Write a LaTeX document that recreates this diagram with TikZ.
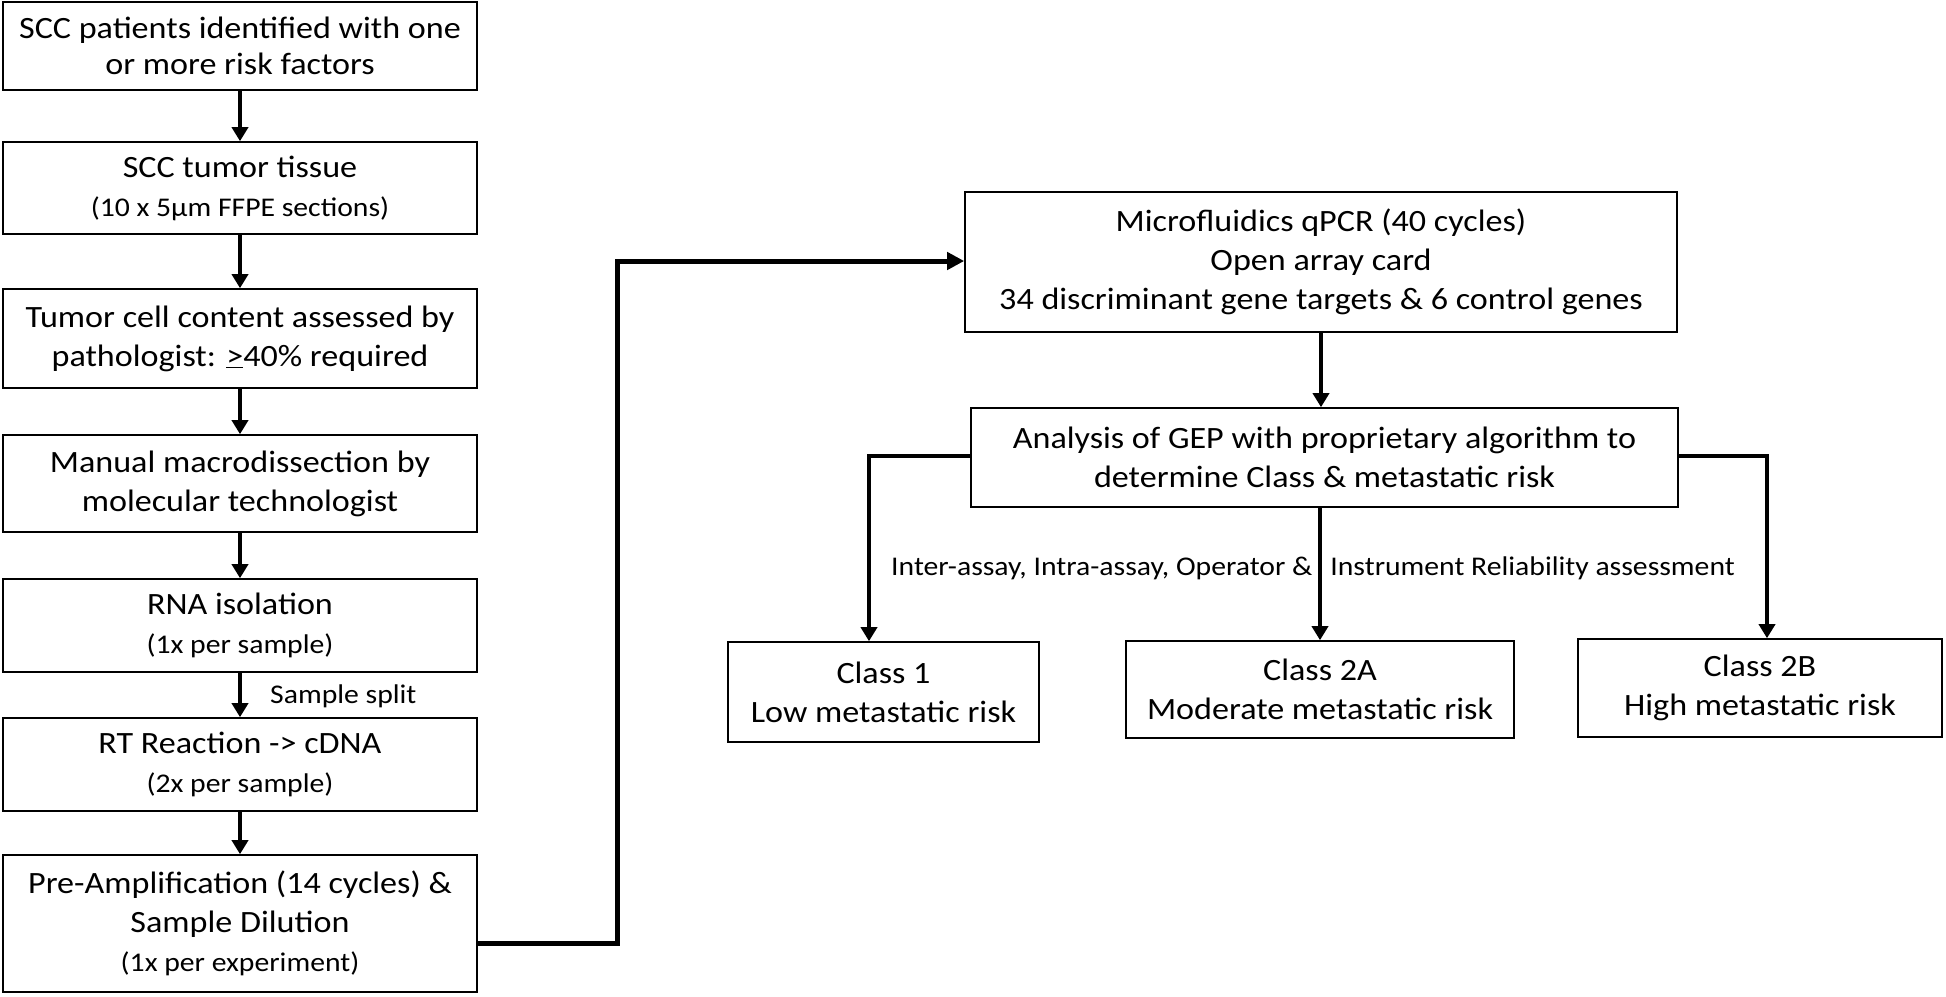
\documentclass[tikz,border=0pt]{standalone}
\usepackage{fontspec}
\setmainfont[FakeStretch=1.1]{Carlito}
\usetikzlibrary{arrows.meta}
\newcommand{\mainsz}{\fontsize{31}{39}\selectfont}
\newcommand{\smsz}{\fontsize{27}{39}\selectfont}
\tikzset{
  box/.style={draw, line width=1.6pt, align=center, inner sep=0pt, font=\mainsz},
  flow/.style={line width=4.2pt, -{Triangle[width=16pt,length=14pt]}},
  heavy/.style={line width=5pt, -{Triangle[width=17pt,length=17pt]}},
  lbl/.style={inner sep=0pt, font=\smsz},
}
\begin{document}
\begin{tikzpicture}[x=1pt,y=-1pt]
\useasboundingbox (0,0) rectangle (1946,996);
% left column
\node[box, minimum width=474pt, minimum height=88pt, font=\fontsize{31}{36}\selectfont] (b1) at (240,46) {SCC patients identified with one\\or more risk factors};
\node[box, minimum width=474pt, minimum height=92pt] (b2) at (240,188) {SCC tumor tissue\\{\smsz (10 x 5µm FFPE sections)}};
\node[box, minimum width=474pt, minimum height=99pt] (b3) at (240,338.5) {Tumor cell content assessed by\\pathologist: \underline{>}40\% required};
\node[box, minimum width=474pt, minimum height=97pt] (b4) at (240,483.5) {Manual macrodissection by\\molecular technologist};
\node[box, minimum width=474pt, minimum height=93pt] (b5) at (240,625.5) {RNA isolation\\{\smsz (1x per sample)}};
\node[box, minimum width=474pt, minimum height=93pt] (b6) at (240,764.5) {RT Reaction -> cDNA\\{\smsz (2x per sample)}};
\node[box, minimum width=474pt, minimum height=137pt] (b7) at (240,923.5) {Pre-Amplification (14 cycles) \&\\Sample Dilution\\{\smsz (1x per experiment)}};
% right part
\node[box, minimum width=712pt, minimum height=140pt] (m) at (1321,262) {Microfluidics qPCR (40 cycles)\\Open array card\\34 discriminant gene targets \& 6 control genes};
\node[box, minimum width=707pt, minimum height=99pt] (a) at (1324.5,457.5) {Analysis of GEP with proprietary algorithm to\\determine Class \& metastatic risk};
\node[box, minimum width=311pt, minimum height=100pt] (c1) at (883.5,692) {Class 1\\Low metastatic risk};
\node[box, minimum width=388pt, minimum height=97pt] (c2) at (1320,689.5) {Class 2A\\Moderate metastatic risk};
\node[box, minimum width=364pt, minimum height=98pt] (c3) at (1760,688) {Class 2B\\High metastatic risk};
% labels
\node[lbl, anchor=west] (ss) at (270,696) {Sample split};
\node[lbl, anchor=west] (ia) at (891,568) {Inter-assay, Intra-assay, Operator \&\hspace{18pt}Instrument Reliability assessment};
% helper coordinates
\coordinate (k1) at (617,943);
\coordinate (k2) at (617,261);
\coordinate (k3) at (869,456);
\coordinate (k4) at (1767,456);
% connectors
\draw[flow] (b1.south) -- (b2.north);
\draw[flow] (b2.south) -- (b3.north);
\draw[flow] (b3.south) -- (b4.north);
\draw[flow] (b4.south) -- (b5.north);
\draw[flow] (b5.south) -- (b6.north);
\draw[flow] (b6.south) -- (b7.north);
\draw[heavy, line join=miter] (b7.east |- k1) -- (k1) -- (k2) -- (k2 -| m.west);
\draw[flow] (m.south) -- (m.south |- a.north);
\draw[flow, line join=miter] (a.west |- k3) -- (k3) -- (k3 |- c1.north);
\draw[flow] (c2.north |- a.south) -- (c2.north);
\draw[flow, line join=miter] (a.east |- k4) -- (k4) -- (k4 |- c3.north);
\end{tikzpicture}
\end{document}
